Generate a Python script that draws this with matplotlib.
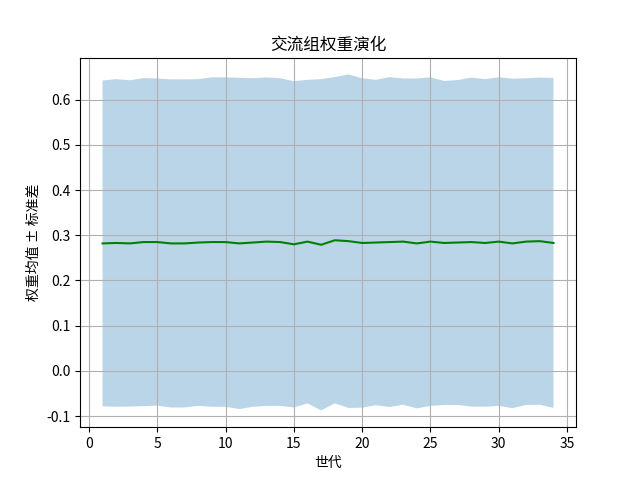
import matplotlib
matplotlib.use("Agg")
import matplotlib.pyplot as plt
import numpy as np

plt.rcParams['font.family'] = ['Noto Sans CJK SC', 'DejaVu Sans']
plt.rcParams['axes.unicode_minus'] = False

generations = list(range(1, 35))
mean_weight = [0.282, 0.283, 0.282, 0.285, 0.285, 0.282, 0.282, 0.284, 0.285, 0.285,
               0.282, 0.284, 0.286, 0.285, 0.280, 0.286, 0.279, 0.289, 0.287, 0.283,
               0.284, 0.285, 0.286, 0.282, 0.286, 0.283, 0.284, 0.285, 0.283, 0.286,
               0.282, 0.286, 0.287, 0.283]
std_weight = [0.3605, 0.3625, 0.361, 0.363, 0.362, 0.363, 0.363, 0.3615, 0.3645, 0.3645,
              0.3665, 0.3635, 0.3635, 0.3625, 0.361, 0.358, 0.3665, 0.361, 0.369, 0.3645,
              0.360, 0.365, 0.361, 0.365, 0.3635, 0.3585, 0.3595, 0.364, 0.3625, 0.3635,
              0.3645, 0.3615, 0.362, 0.365]

x = np.array(generations)
m = np.array(mean_weight)
s = np.array(std_weight)

fig, ax = plt.subplots(figsize=(6.4, 4.8), dpi=100)
ax.plot(x, m, color='green')
ax.fill_between(x, m - s, m + s, alpha=0.3)
ax.set_title('交流组权重演化')
ax.set_xlabel('世代')
ax.set_ylabel('权重均值 ± 标准差')
ax.grid(True)
fig.savefig('out.png')
